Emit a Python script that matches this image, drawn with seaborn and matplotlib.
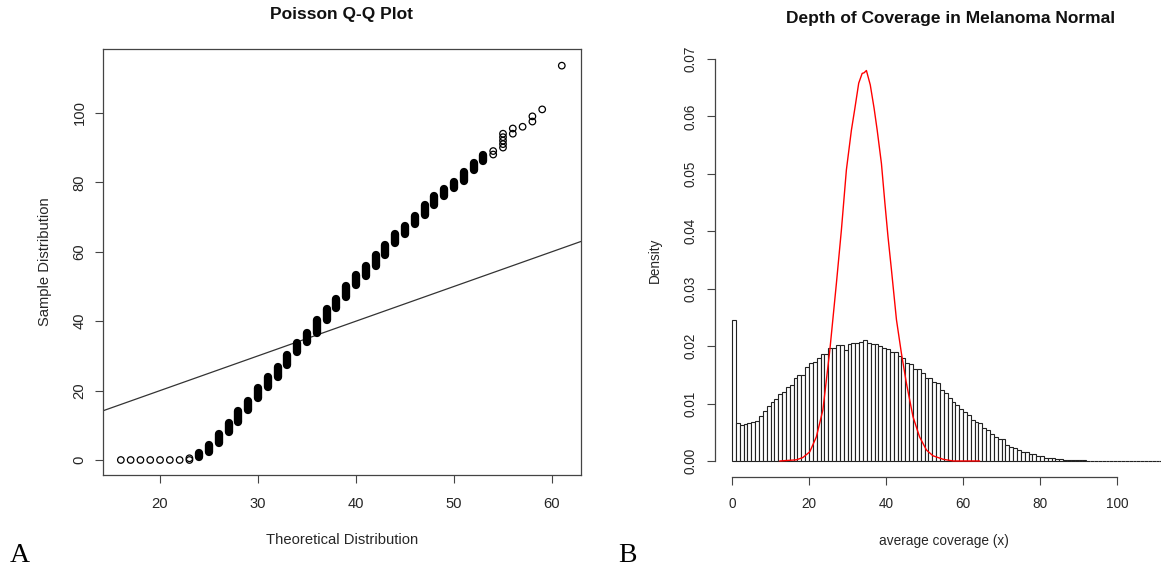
import numpy as np
import pandas as pd
import matplotlib
matplotlib.use("Agg")
import matplotlib.pyplot as plt
import seaborn as sns

# ---------------- Data: Poisson Q-Q plot ----------------
qq_open_x = [16, 17, 18, 19, 20, 21, 22, 23, 23, 54, 54, 55, 55, 55, 55, 55,
             56, 56, 57, 58, 58, 59, 61]
qq_open_y = [0, 0, 0, 0, 0, 0, 0, 0, 0.5, 88, 89, 90, 91, 92, 93, 94,
             94, 95.5, 96, 97.5, 99, 101, 113.6]
qq_blob_x = list(range(24, 54))
qq_blob_lo = [1, 2.4, 5, 8, 11, 14.4, 18, 21, 24, 27.4, 31, 34, 36.7, 40.4, 43.7,
              47, 50.5, 53, 56, 59, 62.5, 65, 68, 70.6, 73.5, 76, 78.3, 80.3, 83.4, 86]
qq_blob_hi = [2, 4.3, 7.6, 10.7, 14, 17, 20.6, 23.8, 26.9, 30.2, 33.6, 36.7, 40.3,
              43.4, 46.5, 50, 53.3, 56, 59, 62, 65, 67.4, 70.3, 73.4, 76, 78, 80.2,
              83, 85.5, 87.9]
ref_intercept = 0
ref_slope = 1
qq_xticks = [20, 30, 40, 50, 60]
qq_yticks = [0, 20, 40, 60, 80, 100]

# ---------------- Data: depth of coverage histogram ----------------
hist_density = [0.0245, 0.0067, 0.0063, 0.0065, 0.0066, 0.0068, 0.0070, 0.0079, 0.0087, 0.0096,
                0.0102, 0.0108, 0.0116, 0.0120, 0.0128, 0.0132, 0.0145, 0.0149, 0.0149, 0.0163,
                0.0170, 0.0173, 0.0179, 0.0187, 0.0187, 0.0196, 0.0196, 0.0202, 0.0202, 0.0193,
                0.0204, 0.0205, 0.0206, 0.0208, 0.0210, 0.0205, 0.0204, 0.0204, 0.0200, 0.0196,
                0.0195, 0.0190, 0.0190, 0.0182, 0.0179, 0.0170, 0.0169, 0.0161, 0.0160, 0.0153,
                0.0144, 0.0144, 0.0138, 0.0135, 0.0124, 0.0118, 0.0109, 0.0102, 0.0098, 0.0090,
                0.0086, 0.0080, 0.0071, 0.0068, 0.0066, 0.0057, 0.0054, 0.0047, 0.0042, 0.0039,
                0.0038, 0.0028, 0.0025, 0.0022, 0.0019, 0.0016, 0.0015, 0.0012, 0.0012, 0.0009,
                0.0008, 0.0006, 0.0005, 0.0005, 0.0003, 0.0003, 0.0002, 0.0002, 0.0001, 0.0001,
                0.0001, 0.0001, 0.00008, 0.00006, 0.00005, 0.00004, 0.00003, 0.00003, 0.00002,
                0.00002, 0.00002, 0.00001, 0.00001, 0.00001, 0.00001, 0.00001, 0.00001, 0.00001,
                0.00001, 0.00001, 0.00001, 0.00001]
curve_x = [12.4, 16.7, 18.4, 20.2, 21.9, 23.6, 25.4, 27.1, 28.4, 29.7, 31.0, 31.9, 32.9,
           33.8, 34.3, 34.9, 35.9, 36.9, 37.7, 38.8, 39.7, 40.5, 41.4, 42.7, 44.0, 45.3,
           47.0, 48.7, 50.5, 52.2, 54.8, 57.4, 64.3]
curve_y = [0, 0.0002, 0.0006, 0.0016, 0.0042, 0.0089, 0.0193, 0.0309, 0.0402, 0.0507,
           0.0576, 0.0614, 0.0658, 0.0675, 0.0676, 0.0680, 0.0655, 0.0614, 0.0576, 0.0518,
           0.0449, 0.0391, 0.0333, 0.0246, 0.0187, 0.0135, 0.0077, 0.0042, 0.0019, 0.0009,
           0.0003, 0, 0]
hist_xticks = [0, 20, 40, 60, 80, 100]
hist_yticks = [0.00, 0.01, 0.02, 0.03, 0.04, 0.05, 0.06, 0.07]

# ---------------- Style ----------------
sns.set_theme(style="white")
plt.rcParams['font.family'] = ['Liberation Sans', 'DejaVu Sans']
plt.rcParams['text.color'] = '#111111'

W, H = 1161, 571
fig = plt.figure(figsize=(W / 100, H / 100), dpi=100)

def fx(px):
    return px / W

def fy(py):
    return 1 - py / H

axcol = '#444444'
lab_fs = 10.6
lab_fs2 = 9.8
title_fs = 12.5

# ---------------- Left: Q-Q plot ----------------
ax1 = fig.add_axes([fx(103), fy(475), fx(581 - 103), (475 - 49) / H])
ax1.set_xlim(14.18, 62.96)
ax1.set_ylim(-4.32, 118.4)
ax1.axline((0, ref_intercept), slope=ref_slope, color='#333333', lw=0.9, zorder=1)
blobs = ax1.vlines(qq_blob_x, qq_blob_lo, qq_blob_hi, colors='black', lw=6.0, zorder=3)
blobs.set_capstyle('round')
qq_df = pd.DataFrame({'theoretical': qq_open_x, 'sample': qq_open_y})
sns.scatterplot(data=qq_df, x='theoretical', y='sample', ax=ax1, marker='o', s=22,
                facecolors='none', edgecolor='black', linewidth=0.9, zorder=4)
ax1.set_xticks(qq_xticks)
ax1.set_yticks(qq_yticks)
ax1.set_xticklabels([str(v) for v in qq_xticks])
ax1.set_yticklabels([str(v) for v in qq_yticks], rotation=90, va='center')
for s in ax1.spines.values():
    s.set_color(axcol)
    s.set_linewidth(0.9)
ax1.tick_params(axis='both', direction='out', length=5.8, width=0.8, color=axcol,
                labelsize=lab_fs, bottom=True, left=True)
ax1.tick_params(axis='x', pad=9.7)
ax1.tick_params(axis='y', pad=6)
ax1.set_xlabel('Theoretical Distribution', fontsize=lab_fs, labelpad=16.5)
ax1.set_ylabel('Sample Distribution', fontsize=lab_fs, labelpad=15)
fig.text(fx(342), fy(15), 'Poisson Q-Q Plot', ha='center', va='center',
         fontsize=title_fs, fontweight='bold')

# ---------------- Right: histogram ----------------
ax2 = fig.add_axes([fx(715), fy(477), fx(W - 715), (477 - 43) / H])
n_bins = len(hist_density)
hist_df = pd.DataFrame({'coverage': np.arange(n_bins) + 0.5, 'density': hist_density})
sns.histplot(data=hist_df, x='coverage', weights='density', binwidth=1,
             binrange=(0, n_bins), stat='count',
             ax=ax2, color='white', edgecolor='#222222', linewidth=0.8, alpha=1)
curve_df = pd.DataFrame({'x': curve_x, 'y': curve_y})
sns.lineplot(data=curve_df, x='x', y='y', ax=ax2, color='red', lw=1.0,
             estimator=None, sort=False)
ax2.set_xlim(-4.42, 111.4)
ax2.set_ylim(-0.00279, 0.07279)
ax2.set_xticks(hist_xticks)
ax2.set_yticks(hist_yticks)
ax2.set_xticklabels([str(v) for v in hist_xticks])
ax2.set_yticklabels(['%.2f' % v for v in hist_yticks], rotation=90, va='center')
for side in ['top', 'right']:
    ax2.spines[side].set_visible(False)
ax2.spines['left'].set_bounds(hist_yticks[0], hist_yticks[-1])
ax2.spines['bottom'].set_bounds(hist_xticks[0], hist_xticks[-1])
for side in ['left', 'bottom']:
    ax2.spines[side].set_color(axcol)
    ax2.spines[side].set_linewidth(0.9)
ax2.tick_params(axis='both', direction='out', length=5.8, width=0.8, color=axcol,
                labelsize=lab_fs2, bottom=True, left=True)
ax2.tick_params(axis='x', pad=8.8)
ax2.tick_params(axis='y', pad=6.6)
ax2.set_xlabel('average coverage (x)', fontsize=lab_fs2)
ax2.set_ylabel('Density', fontsize=lab_fs2)
ax2.xaxis.set_label_coords(0.513, (477 - 541) / (477 - 43))
ax2.yaxis.set_label_coords((655 - 715) / (W - 715), 0.5)
ax2.xaxis.label.set_va('center')
ax2.yaxis.label.set_va('center')
fig.text(fx(951), fy(19), 'Depth of Coverage in Melanoma Normal', ha='center', va='center',
         fontsize=title_fs, fontweight='bold')

# ---------------- Panel letters ----------------
fig.text(fx(10), fy(555), 'A', fontsize=20, family=['Liberation Serif', 'DejaVu Serif'],
         ha='left', va='center', color='black')
fig.text(fx(618), fy(555), 'B', fontsize=20, family=['Liberation Serif', 'DejaVu Serif'],
         ha='left', va='center', color='black')

fig.savefig('out.png', dpi=100)
